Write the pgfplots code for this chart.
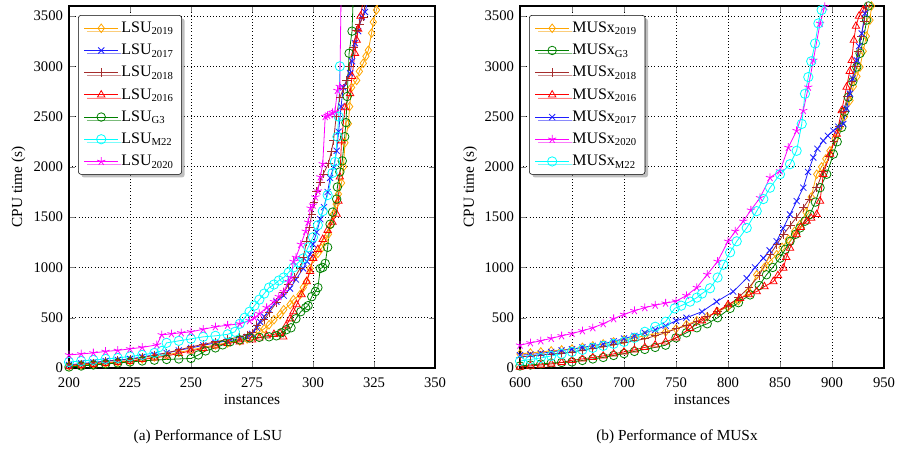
\documentclass[border=0pt]{standalone}
\usepackage{fontspec}
\setmainfont{Liberation Serif}
\usepackage{pgfplots}
\pgfplotsset{compat=1.18}
\usetikzlibrary{shadows}
\definecolor{corange}{RGB}{255,165,0}
\definecolor{cblue}{RGB}{30,30,255}
\definecolor{cbrown}{RGB}{165,45,45}
\definecolor{cred}{RGB}{255,0,0}
\definecolor{cgreen}{RGB}{0,128,0}
\definecolor{ccyan}{RGB}{0,255,255}
\definecolor{cmag}{RGB}{255,0,255}
\pgfplotsset{
  cactus/.style={
    scale only axis, width=274.5pt, height=271.5pt,
    ymin=0, ymax=3600, ytick={0,500,...,3500},
    grid=major, major grid style={dotted, black, line width=0.7pt},
    xlabel={instances}, ylabel={CPU time (s)},
    tick label style={font=\fontsize{11}{13}\selectfont},
    xticklabel style={yshift=-3.5pt},
    yticklabel style={xshift=-1pt},
    label style={font=\fontsize{11.5}{13}\selectfont},
    xlabel style={at={(axis description cs:0.5,-0.088)}, anchor=center},
    /pgf/number format/assume math mode=true,
    /pgf/number format/1000 sep={},
    legend style={at={(0.025,0.975)}, anchor=north west, draw=black, fill=white,
      rounded corners=2pt, drop shadow, font=\fontsize{12}{14}\selectfont, row sep=3.2pt,
      inner xsep=4pt, inner ysep=3pt},
    legend image code/.code={\draw[mark repeat=2,mark phase=2] plot coordinates {(0cm,0cm) (0.45cm,0cm) (0.9cm,0cm)};},
    legend cell align=left,
    every axis plot/.append style={line width=0.6pt, mark size=3.2pt},
    axis line style={line width=0.8pt},
    tick align=inside,
  },
  sorange/.style={color=corange, mark=diamond},
  sblue/.style={color=cblue, mark=x},
  sbrown/.style={color=cbrown, mark=+},
  sred/.style={color=cred, mark=triangle},
  sgreen/.style={color=cgreen, mark=o},
  scyan/.style={color=ccyan, mark=o, mark size=3.5pt},
  smag/.style={color=cmag, mark=star},
}
\begin{document}
\begin{tikzpicture}
\useasboundingbox (-51.75pt,-69pt) rectangle (622.5pt,276pt);
\begin{axis}[cactus, xmin=200, xmax=350, xtick={200,225,...,350},
  ylabel style={at={(axis description cs:-0.138,0.5)}, anchor=center}]
\addplot[sorange] coordinates {(200,20) (205,30) (210,40) (215,50) (220,60) (225,70) (230,90) (235,110) (240,130) (245,155) (250,180) (255,205) (260,230) (265,250) (270,270) (273,290) (275,310) (278,360) (280,390) (282,430) (284,480) (286.5,530) (288,580) (290.6,630) (292,680) (294.7,730) (296,800) (297.4,860) (298.8,990) (300.1,1090) (302,1140) (303.5,1190) (305,1260) (306.3,1330) (307.5,1430) (308.4,1530) (309.5,1630) (310.4,1730) (311.7,1840) (312.5,2000) (313.1,2240) (314.5,2430) (315,2600) (315.8,2790) (317.9,2860) (319,2950) (320.6,3030) (321.7,3100) (322.7,3160) (324,3330) (324.7,3440) (326,3560) (327,3650)};
\addlegendentry{LSU\textsubscript{2019}}
\addplot[sblue] coordinates {(200,30) (205,45) (210,55) (215,70) (220,80) (225,90) (230,110) (235,130) (240,150) (245,175) (250,200) (255,225) (260,250) (265,270) (270,290) (273,310) (275,340) (277,400) (278.3,460) (280,510) (282,580) (285,660) (288,720) (290.6,790) (293,880) (296,990) (297.5,1060) (298.8,1130) (300,1230) (301.5,1350) (303,1480) (304.5,1600) (306,1750) (307,1890) (308.5,2000) (309.7,2160) (310.5,2350) (311.5,2600) (312.4,2790) (315.2,2930) (316,3050) (317.2,3230) (318.5,3350) (320,3490) (321.3,3540) (322.5,3650)};
\addlegendentry{LSU\textsubscript{2017}}
\addplot[sbrown] coordinates {(200,25) (205,40) (210,50) (215,65) (220,75) (225,85) (230,105) (235,125) (240,150) (245,180) (250,210) (255,235) (260,260) (265,285) (270,310) (273,330) (275,350) (277,420) (280,480) (282,550) (285,650) (288,750) (290,830) (292.5,900) (294.7,990) (296,1100) (297.4,1260) (298.5,1400) (299.5,1530) (300.5,1650) (301.5,1760) (303,1850) (304.2,1930) (306.3,2030) (307.5,2150) (308.4,2260) (309.5,2500) (311,2690) (312.5,2780) (313.8,2860) (315,3000) (316.5,3190) (317.9,3360) (319,3420) (320.6,3490) (321.5,3650)};
\addlegendentry{LSU\textsubscript{2018}}
\addplot[sred] coordinates {(200,15) (205,25) (210,35) (215,45) (220,55) (225,65) (230,85) (235,100) (240,120) (245,145) (250,170) (255,195) (260,220) (265,245) (270,260) (275,280) (278,300) (281,320) (284,335) (286.5,345) (287.8,310) (289,420) (290.6,490) (292,560) (293.3,630) (295.3,730) (297.4,860) (298.8,960) (300.1,1090) (302,1180) (304,1280) (306,1370) (308,1450) (309.7,1530) (310.4,1660) (311,1900) (311.7,2260) (313.1,2590) (315.2,2730) (316,2900) (317.2,3130) (317.9,3260) (318.5,3370) (319.5,3500) (320.5,3650)};
\addlegendentry{LSU\textsubscript{2016}}
\addplot[sgreen] coordinates {(200,10) (205,20) (210,30) (215,40) (220,50) (225,60) (230,70) (235,78) (240,85) (245,90) (250,95) (253,130) (256,170) (260,200) (263,230) (266,260) (270,280) (274,300) (278,305) (282,310) (285,320) (287,350) (289,380) (291,400) (293,490) (295,560) (297,600) (298,620) (299.5,710) (301,760) (302,800) (303,990) (304,1000) (305,1040) (306,1200) (307,1430) (308,1550) (309.7,1680) (310,1800) (311,1950) (312,2060) (313,2300) (313.5,2440) (314,2700) (314.8,3130) (316,3350) (316.5,3700)};
\addlegendentry{LSU\textsubscript{G3}}
\addplot[scyan] coordinates {(200,60) (205,70) (210,80) (215,90) (220,100) (225,115) (230,130) (235,150) (238,170) (240,250) (245,270) (250,290) (255,310) (260,320) (265,335) (268,360) (270,440) (272,500) (274,560) (276,620) (278,680) (280,740) (282,800) (284,830) (286,870) (288,900) (290,950) (292,1000) (294,1050) (296,1090) (298,1200) (300,1300) (302,1420) (304,1560) (306,1720) (308,1940) (309,2050) (310,2300) (310.5,2500) (311,3000)};
\addlegendentry{LSU\textsubscript{M22}}
\addplot[smag] coordinates {(200,130) (205,140) (210,150) (215,165) (220,175) (225,190) (230,205) (236,230) (238,330) (242,340) (246,350) (250,360) (255,385) (260,410) (265,425) (270,440) (274,470) (276,500) (278,540) (281,600) (284,660) (286,710) (288,760) (290,860) (291,900) (292,1060) (293,1100) (295,1230) (297,1360) (298,1450) (299,1590) (300,1620) (301,1700) (302,1760) (303,1900) (304,2030) (305,2500) (306,2510) (307,2520) (308,2540) (309,2550) (310,2760) (311,2800) (311.5,3700)};
\addlegendentry{LSU\textsubscript{2020}}
\end{axis}
\begin{axis}[cactus, at={(338.25pt,0pt)}, width=273pt, xmin=600, xmax=950, xtick={600,650,...,950},
  ylabel style={at={(axis description cs:-0.137,0.5)}, anchor=center}]
\addplot[sorange] coordinates {(600,140) (610,150) (620,160) (630,170) (640,180) (650,190) (660,205) (670,220) (680,240) (690,260) (700,280) (710,300) (720,320) (730,340) (740,360) (750,390) (760,430) (770,470) (780,510) (790,560) (800,610) (810,670) (820,760) (827.6,927) (835,1000) (840,1060) (846.8,1127) (852,1200) (858,1280) (864,1360) (869.2,1427) (875,1550) (880,1700) (885.3,1927) (890,2000) (894,2080) (898,2160) (903,2280) (907.7,2393) (912,2500) (917.3,2660) (920.5,2800) (924,2900) (926.9,2993) (930,3150) (933,3300) (936.5,3460) (938,3600)};
\addlegendentry{MUSx\textsubscript{2019}}
\addplot[sgreen] coordinates {(600,20) (610,30) (620,40) (630,50) (640,55) (650,60) (660,75) (670,90) (680,105) (690,125) (700,143) (710,165) (720,185) (730,205) (740,227) (750,300) (760,350) (770,400) (780,440) (790,500) (802,593) (810,650) (821.2,727) (830,820) (837,927) (843,1000) (850,1093) (855,1180) (859.6,1260) (865,1330) (869.2,1393) (874,1460) (878.8,1527) (884,1650) (888.5,1793) (894.9,1927) (901.3,2127) (905,2250) (909.3,2393) (912,2550) (915.7,2693) (920,2850) (923.8,2993) (927,3130) (930.1,3260) (933.3,3460) (935,3600)};
\addlegendentry{MUSx\textsubscript{G3}}
\addplot[sbrown] coordinates {(600,110) (610,120) (620,130) (630,140) (640,150) (650,160) (660,175) (670,195) (680,210) (690,230) (700,250) (710,270) (720,290) (730,320) (740,350) (750,390) (760,420) (770,460) (780,510) (790,560) (800,620) (810,700) (820,800) (830,920) (840.4,1127) (847,1230) (853.2,1327) (860,1420) (866,1500) (872.4,1593) (878,1680) (885.3,1793) (891.6,1960) (897,2100) (902,2250) (907,2400) (911,2550) (915,2700) (919,2850) (922,3000) (925,3150) (928,3300) (931,3450) (933,3600)};
\addlegendentry{MUSx\textsubscript{2018}}
\addplot[sred] coordinates {(600,10) (610,20) (620,30) (630,40) (640,55) (650,77) (660,90) (670,105) (680,120) (690,140) (700,160) (710,180) (720,205) (730,230) (740,260) (750,300) (763.5,393) (775,470) (789,560) (800,630) (811.5,693) (820,730) (827.6,760) (835,810) (843.6,860) (848,920) (853.2,993) (856,1100) (859.6,1193) (866,1327) (870,1400) (875.7,1460) (880,1490) (885.3,1527) (888.5,1660) (891.6,1927) (898.1,2127) (904.5,2327) (909.3,2560) (914,2793) (917,2950) (919,3060) (921,3260) (923,3400) (926,3500) (930,3560) (931,3650)};
\addlegendentry{MUSx\textsubscript{2016}}
\addplot[sblue] coordinates {(600,127) (610,135) (620,145) (630,160) (640,175) (650,187) (660,205) (670,220) (680,240) (690,265) (700,293) (710,320) (720,350) (730,380) (740,420) (750,470) (760,500) (775,560) (789,660) (805,760) (818,893) (826,1000) (834,1093) (840,1170) (846.8,1260) (853,1390) (859.6,1527) (866,1660) (872.4,1793) (877,1950) (882,2093) (886,2180) (891.6,2260) (896,2310) (901.3,2360) (906,2400) (910.9,2427) (914,2580) (917.3,2727) (920,2880) (923.8,3060) (926,3200) (928.6,3327) (931.7,3527) (933,3650)};
\addlegendentry{MUSx\textsubscript{2017}}
\addplot[smag] coordinates {(600,227) (610,250) (620,270) (630,295) (640,320) (650,343) (660,370) (670,400) (680,440) (690,490) (700,533) (710,570) (720,600) (730,625) (740,645) (750,665) (760,720) (770,800) (780,930) (790,1060) (800,1260) (807,1360) (814.7,1460) (822,1570) (830.8,1693) (840.4,1893) (850,1960) (858,2193) (866,2360) (872.4,2560) (877.2,2793) (882,3060) (888.5,3427) (893,3593) (895,3700)};
\addlegendentry{MUSx\textsubscript{2020}}
\addplot[scyan] coordinates {(600,70) (610,85) (620,100) (630,120) (640,140) (650,160) (660,180) (670,200) (680,220) (690,240) (700,260) (710,300) (720,360) (730,410) (740,460) (748.7,593) (755,620) (763.5,660) (770,700) (775,740) (782.7,793) (790,900) (795.5,1027) (802,1150) (808.4,1260) (818,1393) (827.6,1560) (834,1680) (840.4,1793) (850,1927) (859.6,2027) (866,2160) (870.9,2427) (874,2727) (877.2,2893) (880,3050) (883.7,3227) (886.9,3427) (890,3560) (892,3650)};
\addlegendentry{MUSx\textsubscript{M22}}
\end{axis}
\node[font=\fontsize{11.5}{13}\selectfont] at (104.25pt,-51.75pt) {(a) Performance of LSU};
\node[font=\fontsize{11.5}{13}\selectfont] at (456pt,-51.75pt) {(b) Performance of MUSx};
\end{tikzpicture}
\end{document}
